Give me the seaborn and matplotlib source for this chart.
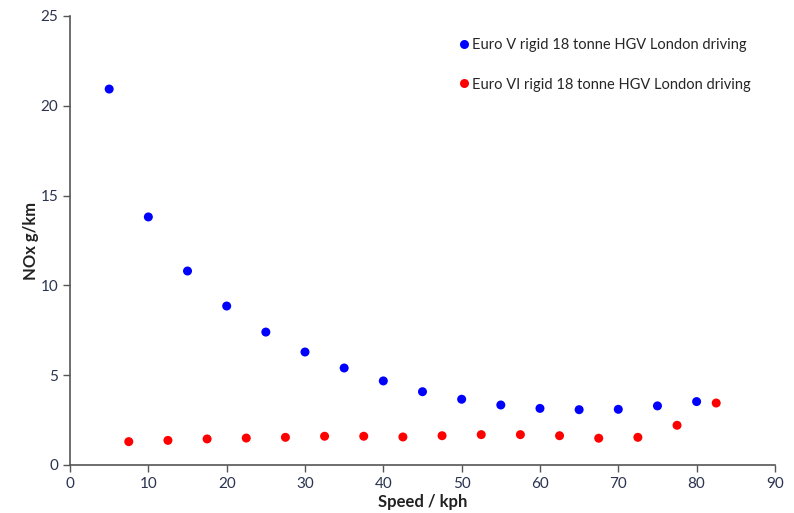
import pandas as pd
import matplotlib
matplotlib.use("Agg")
import matplotlib.pyplot as plt
import seaborn as sns

euro5_speed = [5, 10, 15, 20, 25, 30, 35, 40, 45, 50, 55, 60, 65, 70, 75, 80]
euro5_nox = [20.93, 13.81, 10.80, 8.85, 7.40, 6.29, 5.40, 4.68, 4.08, 3.66, 3.34, 3.15, 3.08, 3.10, 3.29, 3.53]
euro6_speed = [7.5, 12.5, 17.5, 22.5, 27.5, 32.5, 37.5, 42.5, 47.5, 52.5, 57.5, 62.5, 67.5, 72.5, 77.5, 82.5]
euro6_nox = [1.30, 1.37, 1.45, 1.50, 1.54, 1.60, 1.60, 1.56, 1.63, 1.69, 1.69, 1.63, 1.49, 1.54, 2.21, 3.45]
labels = ["Euro V rigid 18 tonne HGV London driving", "Euro VI rigid 18 tonne HGV London driving"]

df = pd.concat([
    pd.DataFrame({"speed": euro5_speed, "nox": euro5_nox, "series": labels[0]}),
    pd.DataFrame({"speed": euro6_speed, "nox": euro6_nox, "series": labels[1]}),
])

sns.set_style("ticks")
plt.rcParams["font.family"] = ["Lato", "DejaVu Sans"]

fig = plt.figure(figsize=(7.94, 5.13), dpi=100)
ax = fig.add_axes([0.0882, 0.0936, 0.8878, 0.8753])
sns.scatterplot(data=df, x="speed", y="nox", hue="series", palette=["#0000ff", "#ff0000"],
                s=42, edgecolor="none", ax=ax)

ax.set_xlim(0, 90)
ax.set_ylim(0, 25)
ax.set_xticks(range(0, 91, 10))
ax.set_yticks(range(0, 26, 5))
ax.tick_params(labelsize=11, labelcolor="#2b3350", color="#555555", length=5, width=1)
ax.set_xlabel("Speed / kph", fontsize=12, fontweight="bold", color="#222222", labelpad=2)
ax.set_ylabel("NOx g/km", fontsize=12, fontweight="bold", color="#222222", labelpad=1)
sns.despine(ax=ax)
for sp in ["left", "bottom"]:
    ax.spines[sp].set_color("#555555")
    ax.spines[sp].set_linewidth(1.2)

ax.legend(loc="upper right", bbox_to_anchor=(0.985, 0.98), frameon=False, fontsize=10.5,
          handletextpad=0.0, labelspacing=1.75, markerscale=1.0, handlelength=1.2)

fig.savefig("out.png", dpi=100)
